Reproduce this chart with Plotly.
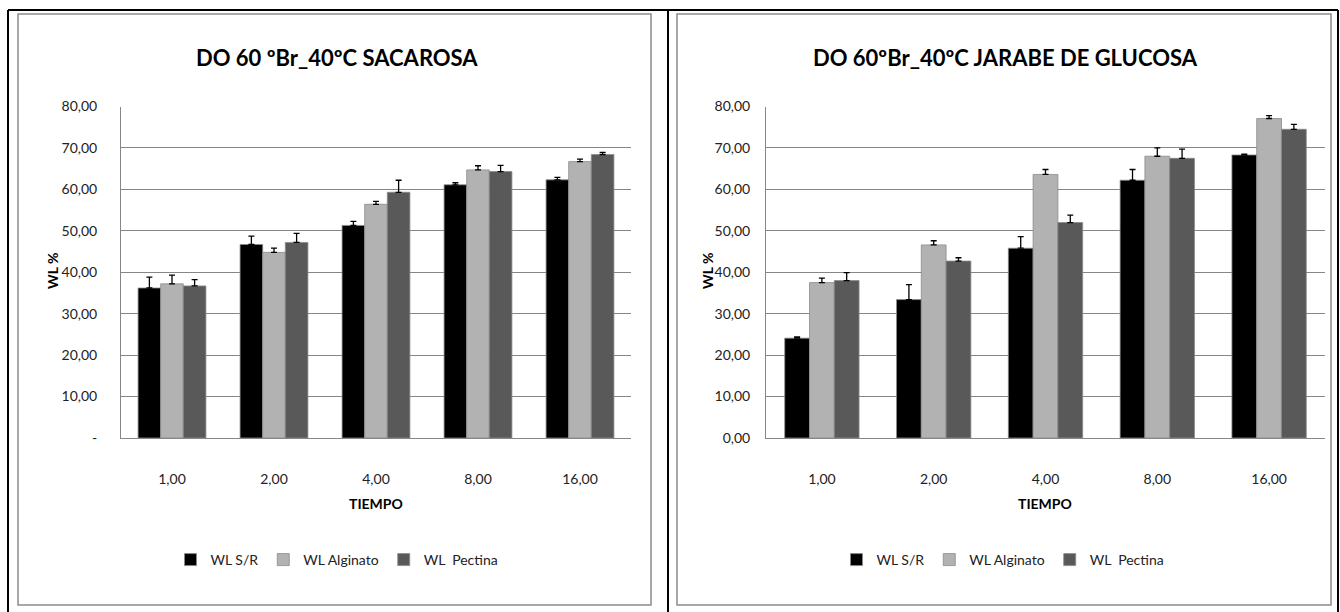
import plotly.graph_objects as go

tiempo = ["1,00", "2,00", "4,00", "8,00", "16,00"]
series_names = ["WL S/R", "WL Alginato", "WL  Pectina"]
series_colors = ["#000000", "#b2b2b2", "#595959"]

# Sacarosa
sac_sr = [36.2, 46.7, 51.3, 61.1, 62.3]
sac_sr_err = [2.6, 2.0, 1.0, 0.5, 0.6]
sac_alg = [37.2, 44.8, 56.4, 64.7, 66.7]
sac_alg_err = [2.1, 1.0, 0.7, 1.0, 0.6]
sac_pec = [36.7, 47.2, 59.3, 64.3, 68.4]
sac_pec_err = [1.5, 2.2, 2.9, 1.5, 0.5]

# Jarabe de glucosa
glu_sr = [24.1, 33.4, 45.8, 62.2, 68.3]
glu_sr_err = [0.3, 3.6, 2.8, 2.6, 0.2]
glu_alg = [37.5, 46.6, 63.6, 68.0, 77.1]
glu_alg_err = [1.1, 1.0, 1.2, 2.0, 0.7]
glu_pec = [38.0, 42.7, 52.0, 67.5, 74.5]
glu_pec_err = [1.9, 0.8, 1.8, 2.2, 1.2]

y_ticks = [0, 10, 20, 30, 40, 50, 60, 70, 80]
left_tick_text = ["-", "10,00", "20,00", "30,00", "40,00", "50,00", "60,00", "70,00", "80,00"]
right_tick_text = ["0,00", "10,00", "20,00", "30,00", "40,00", "50,00", "60,00", "70,00", "80,00"]

title_left = "DO 60 ºBr_40ºC SACAROSA"
title_right = "DO 60ºBr_40ºC JARABE DE GLUCOSA"

FONT = "Lato, Open Sans, sans-serif"
W, H = 1340, 612

def px(x):
    return x / W

def py(y):
    return 1 - y / H

fig = go.Figure()

left_data = [(sac_sr, sac_sr_err), (sac_alg, sac_alg_err), (sac_pec, sac_pec_err)]
right_data = [(glu_sr, glu_sr_err), (glu_alg, glu_alg_err), (glu_pec, glu_pec_err)]

for (vals, errs), name, col in zip(left_data, series_names, series_colors):
    fig.add_trace(go.Bar(
        x=tiempo, y=vals, name=name, marker=dict(color=col, line=dict(color="#8a8a8a", width=0.8)),
        error_y=dict(type="data", array=errs, arrayminus=[0] * len(errs), symmetric=False,
                     color="#000000", thickness=1.3, width=3),
        xaxis="x", yaxis="y", legend="legend"))

for (vals, errs), name, col in zip(right_data, series_names, series_colors):
    fig.add_trace(go.Bar(
        x=tiempo, y=vals, name=name, marker=dict(color=col, line=dict(color="#8a8a8a", width=0.8)),
        error_y=dict(type="data", array=errs, arrayminus=[0] * len(errs), symmetric=False,
                     color="#000000", thickness=1.3, width=3),
        xaxis="x2", yaxis="y2", legend="legend2"))

y_dom = [py(438), py(106.5)]
axis_common = dict(showgrid=False, linecolor="#868686", linewidth=1, showline=True,
                   tickfont=dict(family=FONT, size=14, color="#222222"), ticks="",
                   fixedrange=True, automargin=False)
yaxis_common = dict(range=[0, 80], tickvals=y_ticks, showgrid=True, gridcolor="#868686",
                    gridwidth=1, showline=True, linecolor="#868686", linewidth=1, ticks="",
                    zeroline=False, fixedrange=True, automargin=False,
                    tickfont=dict(family=FONT, size=14, color="#222222"))

fig.update_layout(
    width=W, height=H, autosize=False,
    margin=dict(l=0, r=0, t=0, b=0, pad=0, autoexpand=False),
    paper_bgcolor="white", plot_bgcolor="white",
    barmode="group", bargap=0.335, bargroupgap=0,
    showlegend=True,
    xaxis=dict(domain=[px(121), px(631)], anchor="y", ticklabelstandoff=28, **axis_common),
    yaxis=dict(domain=y_dom, anchor="x", tickmode="array", ticktext=left_tick_text,
               ticklabelstandoff=20, **yaxis_common),
    xaxis2=dict(domain=[px(766), px(1325)], anchor="y2", ticklabelstandoff=28, **axis_common),
    yaxis2=dict(domain=y_dom, anchor="x2", tickmode="array", ticktext=right_tick_text,
                ticklabelstandoff=12, **yaxis_common),
    legend=dict(orientation="h", x=px(337), y=py(560), xanchor="center", yanchor="middle",
                font=dict(family=FONT, size=14, color="#222222"), itemwidth=30,
                bgcolor="rgba(0,0,0,0)", traceorder="normal"),
    legend2=dict(orientation="h", x=px(1003), y=py(560), xanchor="center", yanchor="middle",
                 font=dict(family=FONT, size=14, color="#222222"), itemwidth=30,
                 bgcolor="rgba(0,0,0,0)", traceorder="normal"),
    font=dict(family=FONT),
)

annotations = [
    dict(text="<b>" + title_left + "</b>", x=px(337), y=py(57), xref="paper", yref="paper",
         showarrow=False, font=dict(family=FONT, size=22, color="#000000"), xanchor="center", yanchor="middle"),
    dict(text="<b>" + title_right + "</b>", x=px(1005), y=py(57), xref="paper", yref="paper",
         showarrow=False, font=dict(family=FONT, size=22, color="#000000"), xanchor="center", yanchor="middle"),
    dict(text="<b>TIEMPO</b>", x=px(376), y=py(503), xref="paper", yref="paper",
         showarrow=False, font=dict(family=FONT, size=14, color="#000000"), xanchor="center", yanchor="middle"),
    dict(text="<b>TIEMPO</b>", x=px(1045), y=py(503), xref="paper", yref="paper",
         showarrow=False, font=dict(family=FONT, size=14, color="#000000"), xanchor="center", yanchor="middle"),
    dict(text="<b>WL %</b>", x=px(52), y=py(271), xref="paper", yref="paper", textangle=-90,
         showarrow=False, font=dict(family=FONT, size=14, color="#000000"), xanchor="center", yanchor="middle"),
    dict(text="<b>WL %</b>", x=px(707), y=py(271), xref="paper", yref="paper", textangle=-90,
         showarrow=False, font=dict(family=FONT, size=14, color="#000000"), xanchor="center", yanchor="middle"),
]
fig.update_layout(annotations=annotations)

shapes = [
    # inner chart borders (gray)
    dict(type="rect", xref="paper", yref="paper", x0=px(18), x1=px(651), y0=py(605), y1=py(14),
         line=dict(color="#8c8c8c", width=1.5)),
    dict(type="rect", xref="paper", yref="paper", x0=px(677), x1=px(1331), y0=py(605), y1=py(14),
         line=dict(color="#8c8c8c", width=1.5)),
    # outer black frames
    dict(type="line", xref="paper", yref="paper", x0=px(8), x1=px(1338), y0=py(10), y1=py(10),
         line=dict(color="#000000", width=2)),
    dict(type="line", xref="paper", yref="paper", x0=px(8), x1=px(8), y0=py(10), y1=0,
         line=dict(color="#000000", width=2)),
    dict(type="line", xref="paper", yref="paper", x0=px(668), x1=px(668), y0=py(10), y1=0,
         line=dict(color="#000000", width=2)),
    dict(type="line", xref="paper", yref="paper", x0=px(1338), x1=px(1338), y0=py(10), y1=0,
         line=dict(color="#000000", width=2)),
]
fig.update_layout(shapes=shapes)

post = (
    "document.documentElement.style.margin='0';"
    "document.documentElement.style.overflow='hidden';"
    "document.body.style.margin='0';document.body.style.padding='0';"
    "document.body.style.overflow='hidden';"
    "var gd=document.getElementById('{plot_id}');"
    "gd.style.position='fixed';gd.style.top='0px';gd.style.left='0px';"
)

fig.write_html("out.html", config={"displayModeBar": False}, post_script=post)
